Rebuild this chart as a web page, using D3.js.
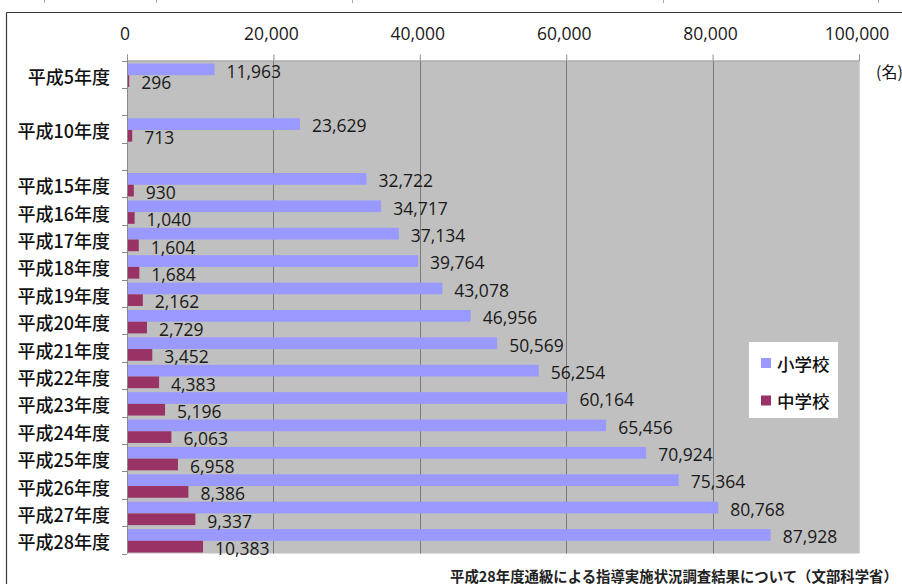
<!DOCTYPE html>
<html>
<head>
<meta charset="utf-8">
<script src="https://cdn.jsdelivr.net/npm/d3@7"></script>
<style>
  html, body { margin: 0; padding: 0; background: #fff; }
  svg { display: block; }
</style>
</head>
<body>
<svg id="chart" width="902" height="584"></svg>
<script>
// Category slots (blank slots keep the gaps between 平成5, 平成10 and 平成15)
const categories = ["平成5年度", "gap-a", "平成10年度", "gap-b",
  "平成15年度", "平成16年度", "平成17年度", "平成18年度", "平成19年度",
  "平成20年度", "平成21年度", "平成22年度", "平成23年度", "平成24年度",
  "平成25年度", "平成26年度", "平成27年度", "平成28年度"];

const years = ["平成5年度", "平成10年度",
  "平成15年度", "平成16年度", "平成17年度", "平成18年度", "平成19年度",
  "平成20年度", "平成21年度", "平成22年度", "平成23年度", "平成24年度",
  "平成25年度", "平成26年度", "平成27年度", "平成28年度"];

const elementary = [11963, 23629, 32722, 34717, 37134, 39764, 43078, 46956,
  50569, 56254, 60164, 65456, 70924, 75364, 80768, 87928];
const juniorHigh = [296, 713, 930, 1040, 1604, 1684, 2162, 2729,
  3452, 4383, 5196, 6063, 6958, 8386, 9337, 10383];

const xTicks = [0, 20000, 40000, 60000, 80000, 100000];
const seriesNames = ["小学校", "中学校"];
const seriesColors = ["#9999ff", "#993366"];
const unitLabel = "(名)";
const sourceNote = "平成28年度通級による指導実施状況調査結果について（文部科学省）";

const svg = d3.select("#chart");
const numFont = "'Open Sans', 'Noto Sans', sans-serif";
const jpFont = "'Noto Sans CJK JP', 'Noto Sans', sans-serif";

const plot = { left: 127, right: 859, top: 60.5, bottom: 553.5 };

const x = d3.scaleLinear().domain([0, 100000]).range([plot.left, plot.right]);
const y = d3.scaleBand().domain(categories).range([plot.top, plot.bottom]).padding(0);
const inner = d3.scaleBand().domain(seriesNames).range([0, y.step()])
  .paddingInner(0).paddingOuter(0.17).align(0.75);

// outer frame
svg.append("line").attr("x1", 6.5).attr("x2", 902).attr("y1", 12.5).attr("y2", 12.5)
  .attr("stroke", "#3a3a3a").attr("stroke-width", 1.2);
svg.append("line").attr("x1", 6.5).attr("x2", 6.5).attr("y1", 12.5).attr("y2", 584)
  .attr("stroke", "#3a3a3a").attr("stroke-width", 1.2);

// small marks along the very top edge
[44, 156, 352, 663, 878].forEach(px => {
  svg.append("line").attr("x1", px + 0.5).attr("x2", px + 0.5).attr("y1", 0).attr("y2", 3)
    .attr("stroke", "#aaa").attr("stroke-width", 1);
});

// plot background
svg.append("rect")
  .attr("x", plot.left).attr("y", plot.top)
  .attr("width", plot.right - plot.left).attr("height", plot.bottom - plot.top)
  .attr("fill", "#c0c0c0");

// vertical gridlines
svg.append("g").selectAll("line").data(xTicks.slice(1)).join("line")
  .attr("x1", d => Math.round(x(d)) + 0.5).attr("x2", d => Math.round(x(d)) + 0.5)
  .attr("y1", plot.top).attr("y2", plot.bottom)
  .attr("stroke", d => d === 100000 ? "#d4d4d4" : "#7a7a7a").attr("stroke-width", 1);

// top value axis
const xAxis = d3.axisTop(x).tickValues(xTicks).tickFormat(d3.format(",")).tickSize(6).tickPadding(15);
const gx = svg.append("g").attr("transform", `translate(0,${plot.top})`).call(xAxis);
gx.select(".domain").attr("stroke", "#a0a0a0");
gx.selectAll(".tick line").attr("stroke", "#909090");
gx.selectAll(".tick text")
  .attr("font-family", numFont).attr("font-size", 17.5).attr("fill", "#1a1a1a")
  .attr("dx", -2.5);

// left category axis: line and ticks on slot boundaries
svg.append("line").attr("x1", plot.left + 0.5).attr("x2", plot.left + 0.5)
  .attr("y1", plot.top).attr("y2", plot.bottom).attr("stroke", "#8a8a8a");
const bounds = categories.map(c => y(c)).concat([y(categories[categories.length - 1]) + y.step()]);
svg.append("g").selectAll("line").data(bounds).join("line")
  .attr("x1", plot.left - 5).attr("x2", plot.left)
  .attr("y1", d => Math.round(d) + 0.5).attr("y2", d => Math.round(d) + 0.5)
  .attr("stroke", "#8a8a8a");

svg.append("g").selectAll("text").data(years).join("text")
  .attr("x", 110)
  .attr("y", d => y(d) + y.step() / 2 + 1.5)
  .attr("text-anchor", "end").attr("dominant-baseline", "central")
  .attr("font-family", jpFont).attr("font-size", 18).attr("font-weight", 500)
  .attr("fill", "#111")
  .text(d => d);

// bars and value labels
const rows = years.map((yr, i) => ({ yr, vals: [elementary[i], juniorHigh[i]] }));
const fmt = d3.format(",");

seriesNames.forEach((s, si) => {
  const g = svg.append("g");
  g.selectAll("rect").data(rows).join("rect")
    .attr("x", plot.left + 1)
    .attr("y", d => y(d.yr) + inner(s))
    .attr("width", d => x(d.vals[si]) - plot.left - 1)
    .attr("height", inner.bandwidth())
    .attr("fill", seriesColors[si]);
  g.selectAll("text").data(rows).join("text")
    .attr("x", d => x(d.vals[si]) + 12)
    .attr("y", d => y(d.yr) + inner(s) + inner.bandwidth() / 2 + 2)
    .attr("dy", "0.36em")
    .attr("font-family", numFont).attr("font-size", 17.5).attr("fill", "#1a1a1a")
    .text(d => fmt(d.vals[si]));
});

// unit label
svg.append("text").attr("x", 876).attr("y", 71).attr("dominant-baseline", "central")
  .attr("font-family", jpFont).attr("font-size", 16).attr("fill", "#111").text(unitLabel);

// legend
const lg = svg.append("g");
lg.append("rect").attr("x", 749).attr("y", 342).attr("width", 89).attr("height", 76).attr("fill", "#fff");
seriesNames.forEach((s, i) => {
  const cy = 363 + i * 37.5;
  lg.append("rect").attr("x", 761).attr("y", cy - 5).attr("width", 10).attr("height", 10)
    .attr("fill", seriesColors[i]);
  lg.append("text").attr("x", 777).attr("y", cy).attr("dominant-baseline", "central")
    .attr("font-family", jpFont).attr("font-size", 17.5).attr("font-weight", 500)
    .attr("fill", "#111").text(s);
});

// source note
svg.append("text").attr("x", 450).attr("y", 575).attr("dominant-baseline", "central")
  .attr("font-family", jpFont).attr("font-size", 14.4).attr("font-weight", 700)
  .attr("fill", "#222").text(sourceNote);
</script>
</body>
</html>
